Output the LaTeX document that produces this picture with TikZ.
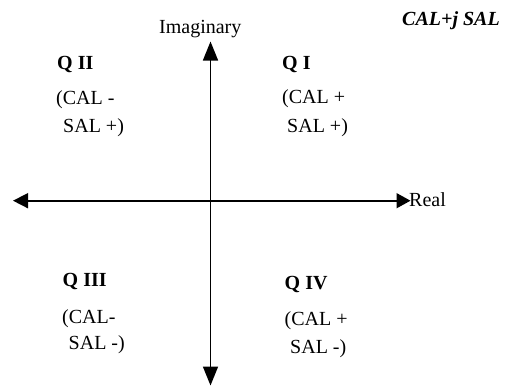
\documentclass[tikz,border=0pt]{standalone}
\usepackage{fontspec}
\setmainfont{Liberation Serif}
\usetikzlibrary{arrows.meta}
\begin{document}
\begin{tikzpicture}[x=1pt,y=-1pt,
  txt/.style={anchor=base west,inner sep=0pt,font=\fontsize{20}{24}\selectfont},
  qlab/.style={txt,font=\fontsize{20}{24}\selectfont\bfseries},
  axis/.style={line width=1.6pt,{Triangle[length=19pt,width=15pt]}-{Triangle[length=19pt,width=15pt]}},
  haxis/.style={line width=1.6pt,{Triangle[length=15pt,width=15pt]}-{Triangle[length=14pt,width=15pt]}}]
\useasboundingbox (0,0) rectangle (510,386);
% axes
\coordinate (vtop) at (210.5,41.5);
\coordinate (vbot) at (210.5,385.5);
\coordinate (hleft) at (13,200.7);
\coordinate (hright) at (410.5,200.7);
\draw[axis] (vtop) -- (vbot);
\draw[haxis] (hleft) -- (hright);
% labels
\node[txt] (imag) at (159,33) {Imaginary};
\node[txt] (real) at (409,206.5) {Real};
\node[txt,font=\fontsize{20}{24}\selectfont\bfseries\itshape] (cal) at (402,25.5) {CAL+j SAL};
% Q II
\node[qlab] (q2) at (57,69) {Q II};
\node[txt] (q2a) at (56,104) {(CAL -};
\node[txt] (q2b) at (63,132) {SAL +)};
% Q I
\node[qlab] (q1) at (282,69) {Q I};
\node[txt] (q1a) at (282,103) {(CAL +};
\node[txt] (q1b) at (287,132) {SAL +)};
% Q III
\node[qlab] (q3) at (62.5,286) {Q III};
\node[txt] (q3a) at (62,323) {(CAL-};
\node[txt] (q3b) at (68.5,349) {SAL -)};
% Q IV
\node[qlab] (q4) at (284.5,289) {Q IV};
\node[txt] (q4a) at (284.5,325) {(CAL +};
\node[txt] (q4b) at (290,353) {SAL -)};
\end{tikzpicture}
\end{document}
